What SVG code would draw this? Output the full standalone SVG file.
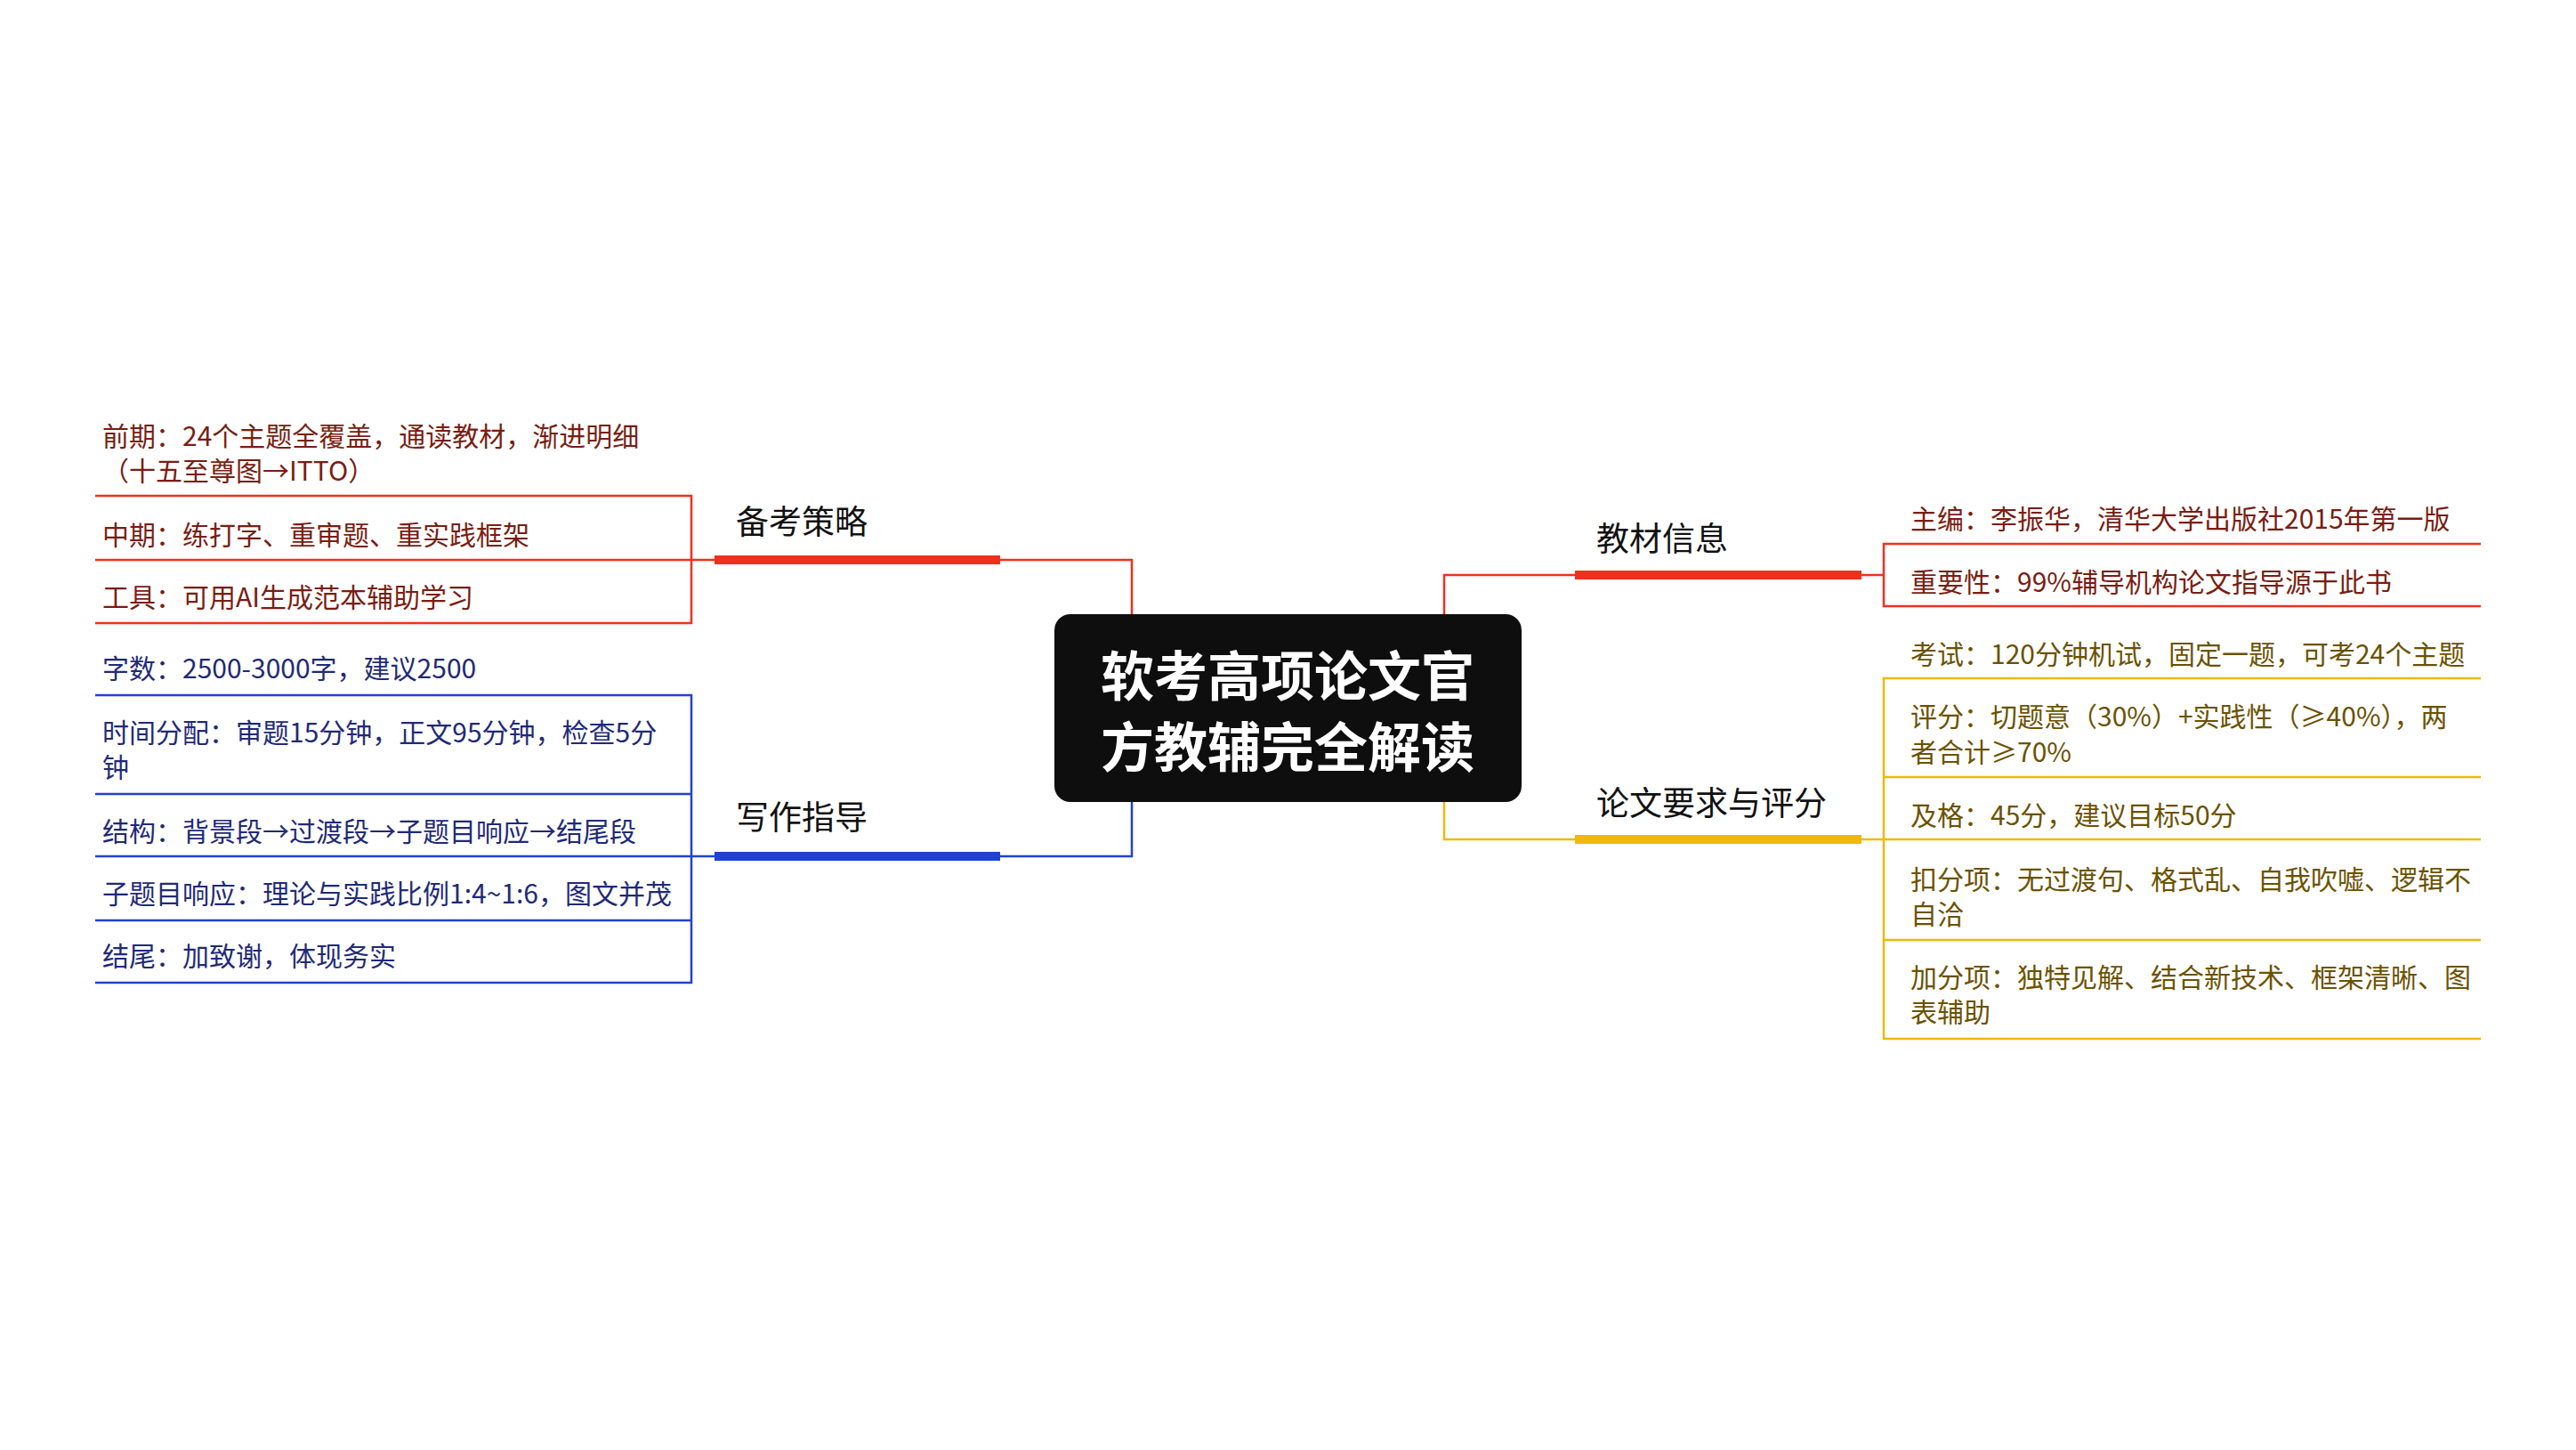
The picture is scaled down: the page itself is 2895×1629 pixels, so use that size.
<svg xmlns="http://www.w3.org/2000/svg" width="2895" height="1629" viewBox="0 0 2895 1629">
<style>
text{font-family:"Noto Sans CJK SC","Noto Sans",sans-serif}
.t{font-size:30px}
.r{fill:#7a1d12}.b{fill:#1f2a78}.g{fill:#6b5200}
.lab{font-size:37px;fill:#111}
.lr{stroke:#f0301e;fill:none;stroke-width:2.5}
.lb{stroke:#2341d0;fill:none;stroke-width:2.5}
.lg{stroke:#f0b80c;fill:none;stroke-width:2.5}
</style>
<rect width="2895" height="1629" fill="#fff"/>
<g id="connectors">
<path class="lr" d="M1124 629H1272V690"/>
<path class="lb" d="M1124 962H1272V901"/>
<path class="lr" d="M1623 690V646H1770"/>
<path class="lg" d="M1623 901V943H1770"/>
<path class="lr" d="M107 557H777V700H107M107 629H803"/>
<path class="lb" d="M107 781H777V1104H107M107 892H777M107 962H803M107 1034H777"/>
<path class="lr" d="M2788 611H2117V681H2788M2092 646H2117"/>
<path class="lg" d="M2788 762H2117V1167H2788M2117 873H2788M2092 943H2788M2117 1056H2788"/>
</g>
<g id="center">
<rect x="1185" y="690" width="525" height="211" rx="18" fill="#0e0e0e"/>
<text x="1447" y="782" text-anchor="middle" font-size="60" font-weight="bold" fill="#fff">软考高项论文官</text>
<text x="1447" y="862" text-anchor="middle" font-size="60" font-weight="bold" fill="#fff">方教辅完全解读</text>
</g>
<g id="b1">
<rect x="803" y="624" width="321" height="10" fill="#f0301e"/>
<text class="lab" x="827" y="600">备考策略</text>
</g>
<g id="b1i">
<text class="t r" x="115" y="501">前期：24个主题全覆盖，通读教材，渐进明细</text>
<text class="t r" x="115" y="540">（十五至尊图→ITTO）</text>
<text class="t r" x="115" y="612">中期：练打字、重审题、重实践框架</text>
<text class="t r" x="115" y="682">工具：可用AI生成范本辅助学习</text>
</g>
<g id="b2">
<rect x="803" y="957" width="321" height="10" fill="#2341d0"/>
<text class="lab" x="827" y="932">写作指导</text>
</g>
<g id="b2i">
<text class="t b" x="115" y="762">字数：2500-3000字，建议2500</text>
<text class="t b" x="115" y="834">时间分配：审题15分钟，正文95分钟，检查5分</text>
<text class="t b" x="115" y="873">钟</text>
<text class="t b" x="115" y="945">结构：背景段→过渡段→子题目响应→结尾段</text>
<text class="t b" x="115" y="1015">子题目响应：理论与实践比例1:4~1:6，图文并茂</text>
<text class="t b" x="115" y="1085">结尾：加致谢，体现务实</text>
</g>
<g id="b3">
<rect x="1770" y="641" width="322" height="10" fill="#f0301e"/>
<text class="lab" x="1794" y="619">教材信息</text>
</g>
<g id="b3i">
<text class="t r" x="2147" y="594">主编：李振华，清华大学出版社2015年第一版</text>
<text class="t r" x="2147" y="665">重要性：99%辅导机构论文指导源于此书</text>
</g>
<g id="b4">
<rect x="1770" y="938" width="322" height="10" fill="#f0b80c"/>
<text class="lab" x="1794" y="916">论文要求与评分</text>
</g>
<g id="b4i">
<text class="t g" x="2147" y="746">考试：120分钟机试，固定一题，可考24个主题</text>
<text class="t g" x="2147" y="816">评分：切题意（30%）+实践性（≥40%），两</text>
<text class="t g" x="2147" y="856">者合计≥70%</text>
<text class="t g" x="2147" y="927">及格：45分，建议目标50分</text>
<text class="t g" x="2147" y="999">扣分项：无过渡句、格式乱、自我吹嘘、逻辑不</text>
<text class="t g" x="2147" y="1038">自洽</text>
<text class="t g" x="2147" y="1109">加分项：独特见解、结合新技术、框架清晰、图</text>
<text class="t g" x="2147" y="1148">表辅助</text>
</g>
</svg>
